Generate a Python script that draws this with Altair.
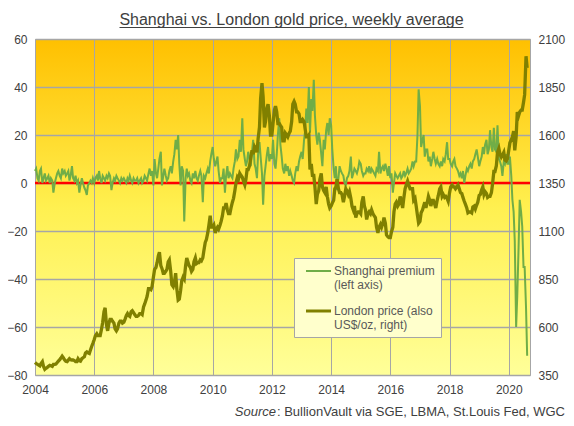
import altair as alt
import pandas as pd

# ---------------- data (semi-monthly: 1st and 15th of each month) ----------------
# Shanghai premium, US$/oz (left axis)
p2004 = [5, 6, 2, 1, 5, 6, 0, 2, 4, 1, 2, 3, 0, 2, 1, -4, 0, 2, 4, 5, 3, 2, 6, 4]
p2005 = [5, 3, 4, 5, 1, 3, 7, 2, 1, 3, 0, 1, -4, -1, 2, 0, -2, -3, -5, -1, 0, 1, 0, 2]
p2006 = [0, 2, 3, 1, 5, 2, 0, 3, 2, 1, 3, 2, 4, 3, -3, 0, 2, 1, 3, 2, 1, 0, 2, 1]
p2007 = [2, 1, 0, 2, 1, 3, 1, 0, 2, 1, 1, 2, 0, 1, 2, 0, 1, 3, 2, 1, 4, 6, 3, 5]
p2008 = [-1, 10, 4, 2, 6, 10, 13, -1, 3, 6, 3, 1, 2, 5, 7, 4, 9, 12, 18, 14, 20, 8, -1, 7]
p2009 = [5, -16, 2, 6, 3, 4, 1, 0, 4, 2, 5, 2, 1, 3, 5, 3, -8, 3, 2, 4, 6, 4, 9, 12]
p2010 = [15, 10, 7, 9, 11, 5, 0, 2, 2, 6, -4, 3, 7, 2, 4, 3, 2, 6, 9, 14, 10, 11, 18, 13]
p2011 = [27, 14, 10, 7, 9, 13, 10, 7, 13, 18, 8, 6, 2, 12, 17, 11, 4, -9, 3, 7, 12, 15, 9, 12]
p2012 = [10, 18, 8, 6, 12, 20, 27, 16, 11, 6, 4, 8, 5, 7, 3, 5, 3, 1, 0, 4, 7, 5, 9, 11]
p2013 = [13, 10, 18, 22, 31, 25, 40, 21, 35, 30, 43, 28, 20, 16, 21, 18, 12, 7, 18, 14, 22, 25, 20, 27]
p2014 = [24, 14, 6, 2, 7, -3, 2, 7, 5, 4, 3, 0, -1, 2, 3, 5, 11, 2, 4, 6, 5, 4, 6, 9]
p2015 = [8, 5, 3, 4, 4, 6, 5, 7, 4, 6, 5, 4, 3, 6, 5, 13, 4, 6, 7, 5, 8, 6, 3, 7]
p2016 = [2, 4, -4, 0, 4, 3, 2, 3, 4, 2, 3, 5, 3, 4, 6, 4, 5, 6, 9, 7, 9, 9, 20, 39]
p2017 = [32, 15, 18, 20, 11, 14, 14, 9, 11, 7, 10, 13, 10, 8, 10, 8, 7, 9, 7, 10, 9, 12, 17, 10]
p2018 = [10, 8, 7, 9, 10, 7, 6, 5, 3, 4, 2, 5, 0, 3, 6, 5, 7, 8, 6, 9, 10, 12, 14, 11]
p2019 = [7, 9, 11, 15, 12, 16, 18, 12, 14, 22, 15, 13, 23, 14, 13, 24, 10, 9, 7, 3, 9, 8, 12, 8]
p2020 = [8, 11, 3, -7, -12, -24, -60, -47, -27, -7, -12, -18, -35, -35, -52, -72]

# London gold price, US$/oz (right axis)
l2004 = [415, 410, 405, 402, 398, 410, 420, 395, 380, 385, 390, 395, 400, 398, 395, 405, 405, 407, 415, 422, 430, 438, 448, 440]
l2005 = [428, 422, 420, 428, 435, 430, 428, 428, 425, 420, 420, 435, 425, 422, 435, 440, 445, 465, 470, 465, 462, 480, 500, 515]
l2006 = [535, 555, 565, 555, 555, 555, 590, 625, 680, 700, 610, 580, 620, 640, 640, 630, 620, 590, 580, 590, 620, 630, 630, 620]
l2007 = [625, 640, 660, 670, 660, 655, 680, 685, 675, 665, 655, 655, 660, 670, 670, 665, 705, 720, 740, 760, 800, 800, 795, 810]
l2008 = [860, 900, 910, 935, 970, 990, 920, 905, 880, 880, 890, 900, 940, 950, 890, 820, 810, 830, 880, 800, 740, 745, 790, 840]
l2009 = [860, 850, 920, 960, 940, 920, 910, 890, 900, 940, 960, 930, 935, 935, 950, 945, 960, 1000, 1040, 1055, 1090, 1130, 1180, 1120]
l2010 = [1120, 1130, 1090, 1110, 1120, 1110, 1130, 1150, 1180, 1220, 1220, 1245, 1210, 1190, 1190, 1220, 1250, 1270, 1310, 1350, 1380, 1370, 1400, 1390]
l2011 = [1380, 1360, 1340, 1370, 1420, 1420, 1440, 1480, 1520, 1500, 1540, 1530, 1510, 1580, 1640, 1790, 1870, 1800, 1640, 1670, 1740, 1760, 1700, 1600]
l2012 = [1600, 1660, 1730, 1750, 1720, 1660, 1660, 1650, 1640, 1570, 1570, 1610, 1600, 1590, 1610, 1620, 1670, 1760, 1775, 1760, 1720, 1720, 1710, 1670]
l2013 = [1670, 1680, 1670, 1630, 1590, 1590, 1600, 1420, 1450, 1390, 1390, 1330, 1240, 1290, 1310, 1370, 1400, 1330, 1310, 1300, 1330, 1280, 1240, 1220]
l2014 = [1230, 1245, 1260, 1320, 1330, 1370, 1320, 1300, 1300, 1290, 1250, 1280, 1320, 1310, 1290, 1305, 1270, 1230, 1210, 1230, 1170, 1190, 1200, 1200]
l2015 = [1190, 1250, 1280, 1230, 1210, 1160, 1190, 1200, 1190, 1210, 1190, 1180, 1170, 1120, 1090, 1120, 1135, 1120, 1140, 1170, 1140, 1080, 1070, 1065]
l2016 = [1065, 1095, 1120, 1200, 1240, 1250, 1230, 1240, 1280, 1260, 1220, 1270, 1320, 1340, 1360, 1340, 1320, 1320, 1320, 1260, 1270, 1230, 1180, 1140]
l2017 = [1150, 1195, 1210, 1230, 1250, 1220, 1250, 1280, 1260, 1230, 1260, 1260, 1240, 1220, 1260, 1285, 1320, 1330, 1280, 1290, 1275, 1280, 1270, 1255]
l2018 = [1300, 1330, 1340, 1330, 1330, 1320, 1330, 1340, 1320, 1300, 1295, 1275, 1255, 1240, 1220, 1195, 1200, 1200, 1195, 1225, 1230, 1215, 1235, 1250]
l2019 = [1285, 1290, 1315, 1330, 1290, 1305, 1295, 1275, 1280, 1280, 1300, 1345, 1410, 1410, 1440, 1510, 1530, 1500, 1485, 1495, 1510, 1470, 1465, 1475]
l2020 = [1520, 1560, 1575, 1590, 1620, 1520, 1590, 1720, 1700, 1720, 1730, 1730, 1770, 1810, 2010, 1950]

premium = (p2004 + p2005 + p2006 + p2007 + p2008 + p2009 + p2010 + p2011 + p2012
           + p2013 + p2014 + p2015 + p2016 + p2017 + p2018 + p2019 + p2020)
london = (l2004 + l2005 + l2006 + l2007 + l2008 + l2009 + l2010 + l2011 + l2012
          + l2013 + l2014 + l2015 + l2016 + l2017 + l2018 + l2019 + l2020)

dates = [f"{y}-{m:02d}-{d:02d}T00:00:00" for y in range(2004, 2021)
         for m in range(1, 13) for d in (1, 15)][:len(premium)]

left_ticks = [-80, -60, -40, -20, 0, 20, 40, 60]
right_ticks = [350, 600, 850, 1100, 1350, 1600, 1850, 2100]
year_ticks = [2004, 2006, 2008, 2010, 2012, 2014, 2016, 2018, 2020]

TITLE = "Shanghai vs. London gold price, weekly average"
LEG1 = ["Shanghai premium", "(left axis)"]
LEG2 = ["London price (also", "US$/oz, right)"]
SRC_IT = "Source"
SRC_REST = ": BullionVault via SGE, LBMA, St.Louis Fed, WGC"

df = pd.DataFrame({"date": pd.to_datetime(dates), "premium": premium, "london": london})
one = pd.DataFrame({"k": [0]})

FONT = "Liberation Sans"
W, H = 495, 336
GRID = "#A6A6A6"
LEFT_DOMAIN = [-80, 60]

# plot-area background: vertical gradient, orange at top to pale yellow at bottom
GRADIENT_EXPR = ("{gradient: 'linear', x1: 0, y1: 0, x2: 0, y2: 1, stops: ["
                 "{offset: 0, color: '#FFC000'}, {offset: 0.5, color: '#FFF050'}, "
                 "{offset: 1, color: '#FFFF99'}]}")

x_enc = alt.X(
    "date:T",
    scale=alt.Scale(domain=[alt.DateTime(year=2004, month=1, date=1),
                            alt.DateTime(year=2020, month=9, date=19)]),
    axis=alt.Axis(values=[alt.DateTime(year=y, month=1, date=1) for y in year_ticks],
                  format="%Y", grid=True, domain=False, ticks=False, tickSize=0,
                  labelPadding=9, labelFlush=False, title=None),
)
y_left = alt.Y("premium:Q",
               scale=alt.Scale(domain=LEFT_DOMAIN, nice=False, zero=False),
               axis=alt.Axis(values=left_ticks, orient="left", grid=True, gridWidth=1.5,
                             domain=False, ticks=False, tickSize=0, labelPadding=8,
                             title=None))

zero_rule = alt.Chart(one).mark_rule(color="#FF0000", strokeWidth=2.5).encode(
    y=alt.datum(0, type="quantitative"), x=alt.value(0), x2=alt.value(W)
)
prem_line = alt.Chart(df).mark_line(color="#70AD47", strokeWidth=2).encode(
    x=x_enc, y=y_left)
left = alt.layer(zero_rule, prem_line).resolve_scale(y="shared")

lon_line = alt.Chart(df).mark_line(color="#808000", strokeWidth=3.3).encode(
    x=x_enc,
    y=alt.Y("london:Q",
            scale=alt.Scale(domain=[350, 2100], nice=False, zero=False),
            axis=alt.Axis(values=right_ticks, orient="right", grid=False, domain=False,
                          ticks=False, tickSize=0, labelPadding=8, title=None, format="d")),
)

# title with underline
title_txt = alt.Chart(one).mark_text(text=TITLE, font=FONT, fontSize=16, color="#404040",
                                     align="center", baseline="alphabetic").encode(
    x=alt.value(256.5), y=alt.value(-14))
title_ul = alt.Chart(one).mark_rule(color="#404040", strokeWidth=1).encode(
    x=alt.value(84.5), x2=alt.value(428.5), y=alt.value(-11.5))

# legend box
leg_box = alt.Chart(one).mark_rect(fill="#FFFFCC", stroke=GRID, strokeWidth=1).encode(
    x=alt.value(259.5), x2=alt.value(406.5), y=alt.value(219.5), y2=alt.value(298.5))
leg_l1 = alt.Chart(one).mark_rule(color="#70AD47", strokeWidth=2).encode(
    x=alt.value(271), x2=alt.value(296), y=alt.value(232))
leg_l2 = alt.Chart(one).mark_rule(color="#808000", strokeWidth=3).encode(
    x=alt.value(271), x2=alt.value(296), y=alt.value(272))
leg_texts = []
for txt, yy in [(LEG1[0], 232), (LEG1[1], 245.5), (LEG2[0], 272), (LEG2[1], 285.5)]:
    leg_texts.append(alt.Chart(one).mark_text(text=txt, font=FONT, fontSize=12, color="#595959",
                                              align="left", baseline="middle").encode(
        x=alt.value(299), y=alt.value(yy)))

# source line
src_it = alt.Chart(one).mark_text(text=SRC_IT, font=FONT, fontSize=13, fontStyle="italic",
                                  color="#404040", align="right", baseline="middle").encode(
    x=alt.value(241), y=alt.value(373))
src_rest = alt.Chart(one).mark_text(text=SRC_REST, font=FONT, fontSize=13, color="#404040",
                                    align="right", baseline="middle").encode(
    x=alt.value(530), y=alt.value(373))

chart = alt.layer(
    left, lon_line, title_txt, title_ul, leg_box, leg_l1, leg_l2, *leg_texts,
    src_it, src_rest
).resolve_scale(y="independent").properties(
    width=W, height=H, autosize="none",
    padding={"left": 27, "top": 31, "right": 36, "bottom": 43},
    background="white",
).configure_view(
    fill=alt.ExprRef(expr=GRADIENT_EXPR), stroke=GRID, strokeWidth=1
).configure_axis(
    labelFont=FONT, labelFontSize=12, labelColor="#404040",
    gridColor=GRID, gridWidth=1, gridOpacity=1,
)

chart.save("out.html", embed_options={"renderer": "svg", "actions": False})
